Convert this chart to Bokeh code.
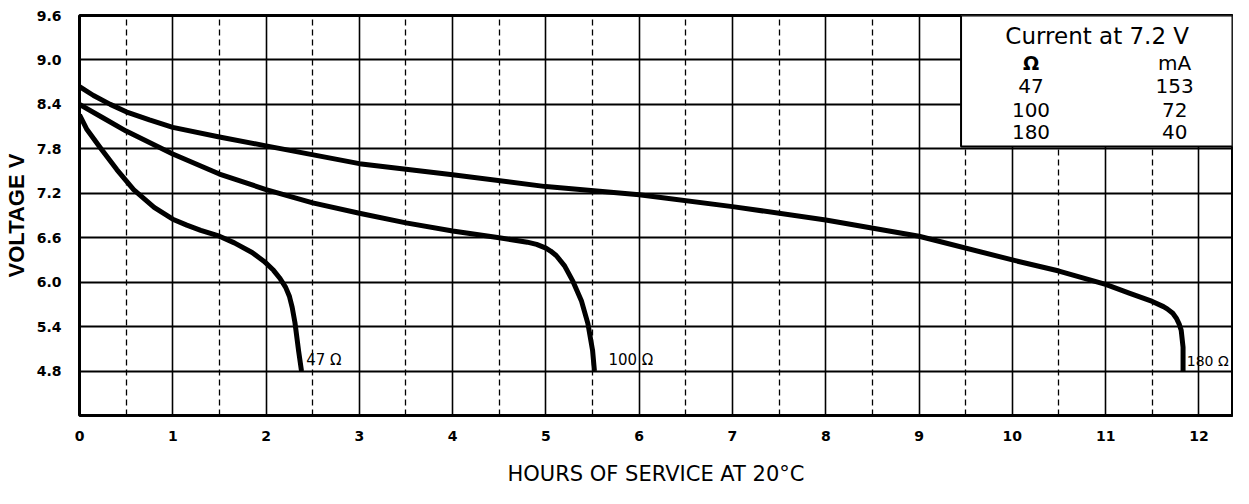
from bokeh.plotting import figure
from bokeh.models import FixedTicker, Grid, Range1d, PrintfTickFormatter
from bokeh.embed import file_html
from bokeh.resources import INLINE
from bokeh.core.properties import value

# ---- data ----
hours_47 = [0, 0.08, 0.225, 0.40, 0.58, 0.80, 1.0, 1.15, 1.3, 1.5, 1.66, 1.85, 1.98, 2.08, 2.15, 2.21, 2.25, 2.28, 2.31, 2.35, 2.38]
volts_47 = [8.26, 8.06, 7.81, 7.52, 7.25, 7.01, 6.85, 6.77, 6.70, 6.62, 6.53, 6.40, 6.28, 6.16, 6.05, 5.93, 5.81, 5.66, 5.45, 5.06, 4.80]

hours_100 = [0, 0.25, 0.5, 1, 1.5, 2, 2.5, 3, 3.5, 4, 4.5, 4.8, 4.9, 5.0, 5.05, 5.11, 5.2, 5.29, 5.38, 5.45, 5.5, 5.52]
volts_100 = [8.40, 8.22, 8.04, 7.73, 7.46, 7.25, 7.07, 6.93, 6.80, 6.69, 6.60, 6.54, 6.51, 6.46, 6.42, 6.36, 6.22, 6.01, 5.75, 5.44, 5.08, 4.80]

hours_180 = [0, 0.15, 0.33, 0.5, 0.75, 1, 1.5, 2, 3, 4, 5, 6, 7, 8, 9, 10, 10.5, 11, 11.26, 11.5, 11.62, 11.66, 11.72, 11.76, 11.79, 11.81, 11.83, 11.83]
volts_180 = [8.64, 8.52, 8.40, 8.30, 8.19, 8.09, 7.96, 7.84, 7.60, 7.45, 7.29, 7.18, 7.02, 6.84, 6.62, 6.30, 6.15, 5.97, 5.85, 5.74, 5.67, 5.64, 5.58, 5.51, 5.43, 5.35, 5.12, 4.80]

curve_labels = ["47 Ω", "100 Ω", "180 Ω"]

x_ticks = list(range(0, 13))
half_hours = [h + 0.5 for h in range(0, 12)]
y_ticks = [4.8, 5.4, 6.0, 6.6, 7.2, 7.8, 8.4, 9.0, 9.6]

legend_title = "Current at 7.2 V"
legend_heads = ["Ω", "mA"]
legend_ohm = ["47", "100", "180"]
legend_ma = ["153", "72", "40"]

X_END = 12.36

# ---- figure ----
p = figure(width=1233, height=488, x_range=Range1d(0, X_END), y_range=Range1d(4.2, 9.6),
           output_backend="svg", toolbar_location=None,
           min_border_left=79, min_border_right=1, min_border_top=15, min_border_bottom=71)
p.background_fill_color = "white"
p.border_fill_color = "white"
p.outline_line_color = "black"
p.outline_line_width = 3

# axes
p.xaxis.ticker = FixedTicker(ticks=x_ticks)
p.yaxis.ticker = FixedTicker(ticks=y_ticks)
p.yaxis.formatter = PrintfTickFormatter(format="%.1f")
for ax in (p.xaxis[0], p.yaxis[0]):
    ax.axis_line_color = None
    ax.major_tick_line_color = None
    ax.minor_tick_line_color = None
    ax.major_label_text_color = "black"
    ax.major_label_text_font = "DejaVu Sans"
    ax.major_label_text_font_style = "bold"
p.xaxis.major_label_text_font_size = "14px"
p.yaxis.major_label_text_font_size = "14px"
p.xaxis.major_label_standoff = 9
p.yaxis.major_label_standoff = 12

p.yaxis.axis_label = "VOLTAGE V"
p.yaxis.axis_label_text_font = "Liberation Sans"
p.yaxis.axis_label_text_font_style = "bold"
p.yaxis.axis_label_text_font_size = "22px"
p.yaxis.axis_label_text_color = "black"
p.yaxis.axis_label_standoff = 5

p.xaxis.axis_label = "HOURS OF SERVICE AT 20°C"
p.xaxis.axis_label_text_font = "DejaVu Sans"
p.xaxis.axis_label_text_font_style = "normal"
p.xaxis.axis_label_text_font_size = "21px"
p.xaxis.axis_label_text_color = "black"
p.xaxis.axis_label_standoff = 18

# grids
p.xgrid.ticker = FixedTicker(ticks=x_ticks)
p.xgrid.grid_line_color = "black"
p.xgrid.grid_line_width = 1.6
p.ygrid.ticker = FixedTicker(ticks=y_ticks)
p.ygrid.grid_line_color = "black"
p.ygrid.grid_line_width = 2.2
half_grid = Grid(dimension=0, ticker=FixedTicker(ticks=half_hours),
                 grid_line_color="black", grid_line_width=1.3, grid_line_dash="6 4")
p.add_layout(half_grid)

# curves
for hs, vs in ((hours_47, volts_47), (hours_100, volts_100), (hours_180, volts_180)):
    p.line(hs, vs, line_color="black", line_width=5, line_join="round", line_cap="butt")

# curve end labels
p.text(x=[2.43, 5.67], y=[4.95, 4.95], text=curve_labels[:2],
       text_font=value("DejaVu Sans"), text_font_size="15px", text_color="black",
       text_align="left", text_baseline="middle")
p.text(x=[11.87], y=[4.94], text=curve_labels[2:],
       text_font=value("DejaVu Sans"), text_font_size="14px", text_color="black",
       text_align="left", text_baseline="middle")

# legend box
p.quad(left=[9.45], right=[X_END], top=[9.6], bottom=[7.83],
       fill_color="white", line_color="black", line_width=2)
p.text(x=[10.91], y=[9.32], text=[legend_title], text_font=value("DejaVu Sans"),
       text_font_size="23px", text_color="black", text_align="center", text_baseline="middle")
p.text(x=[10.2], y=[8.955], text=[legend_heads[0]], text_font=value("DejaVu Sans"),
       text_font_size="19px", text_font_style="bold", text_color="black",
       text_align="center", text_baseline="middle")
p.text(x=[11.74], y=[8.955], text=[legend_heads[1]], text_font=value("DejaVu Sans"),
       text_font_size="20px", text_color="black", text_align="center", text_baseline="middle")
row_y = [8.65, 8.32, 8.03]
p.text(x=[10.2] * 3, y=row_y, text=legend_ohm, text_font=value("DejaVu Sans"),
       text_font_size="20px", text_color="black", text_align="center", text_baseline="middle")
p.text(x=[11.74] * 3, y=row_y, text=legend_ma, text_font=value("DejaVu Sans"),
       text_font_size="20px", text_color="black", text_align="center", text_baseline="middle")

open("out.html", "w").write(file_html(p, INLINE))
